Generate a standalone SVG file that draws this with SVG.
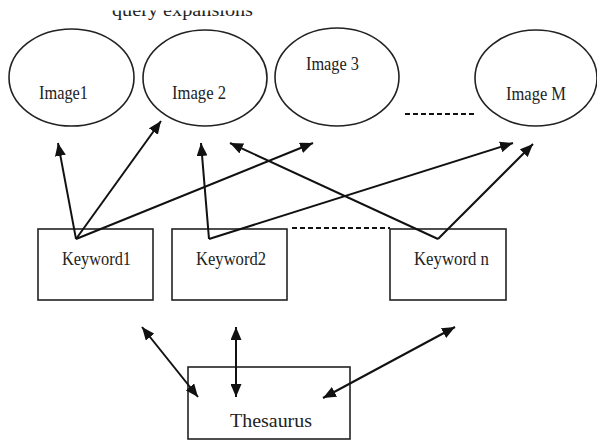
<svg xmlns="http://www.w3.org/2000/svg" width="597" height="441" viewBox="0 0 597 441">
<style>
.node ellipse, .node rect { fill: #fff; stroke: #222; stroke-width: 1.6; }
.lbl { font-family: "Liberation Serif", "Times New Roman", serif; font-size: 19px; fill: #222; }
.conn line { stroke: #111; stroke-width: 2; fill: none; }
.dash { stroke: #222; stroke-width: 1.3; stroke-dasharray: 5 3; fill: none; }
</style>
<defs>
<marker id="ah" viewBox="0 0 13 11" refX="13" refY="5.5" markerWidth="13" markerHeight="11" markerUnits="userSpaceOnUse" orient="auto-start-reverse">
<path d="M0,0 L13,5.5 L0,11 z" fill="#111"/>
</marker>
<clipPath id="topclip"><rect x="0" y="10.5" width="597" height="30"/></clipPath>
</defs>
<rect width="597" height="441" fill="#fff"/>
<text class="lbl" x="112" y="16" font-size="20" textLength="141" lengthAdjust="spacingAndGlyphs" clip-path="url(#topclip)">query expansions</text>

<g id="image1" class="node"><ellipse cx="71.5" cy="77.5" rx="62.5" ry="48.5"/><text class="lbl" x="39" y="99" textLength="49" lengthAdjust="spacingAndGlyphs">Image1</text></g>
<g id="image2" class="node"><ellipse cx="205" cy="78" rx="62" ry="48"/><text class="lbl" x="172" y="99" textLength="54" lengthAdjust="spacingAndGlyphs">Image 2</text></g>
<g id="image3" class="node"><ellipse cx="337" cy="77" rx="62" ry="49"/><text class="lbl" x="306" y="70" textLength="53" lengthAdjust="spacingAndGlyphs">Image 3</text></g>
<g id="imageM" class="node"><ellipse cx="536" cy="78" rx="61" ry="48"/><text class="lbl" x="506" y="100" textLength="60" lengthAdjust="spacingAndGlyphs">Image M</text></g>

<g id="keyword1" class="node"><rect x="38" y="229" width="115" height="71"/><text class="lbl" x="62" y="265" textLength="69" lengthAdjust="spacingAndGlyphs">Keyword1</text></g>
<g id="keyword2" class="node"><rect x="172" y="229" width="115" height="71"/><text class="lbl" x="196" y="265" textLength="70" lengthAdjust="spacingAndGlyphs">Keyword2</text></g>
<g id="keywordn" class="node"><rect x="390" y="229" width="116" height="71"/><text class="lbl" x="414" y="265" textLength="75" lengthAdjust="spacingAndGlyphs">Keyword n</text></g>

<g id="thesaurus" class="node"><rect x="188" y="367" width="162" height="72"/><text class="lbl" x="230" y="427" textLength="82" lengthAdjust="spacingAndGlyphs">Thesaurus</text></g>

<g id="connectors" class="conn">
<line class="dash" x1="405" y1="114" x2="477" y2="114"/>
<line class="dash" x1="292" y1="228" x2="390" y2="228"/>
<line x1="76" y1="239" x2="58" y2="143" marker-end="url(#ah)"/>
<line x1="76" y1="239" x2="161" y2="121" marker-end="url(#ah)"/>
<line x1="76" y1="239" x2="313" y2="143" marker-end="url(#ah)"/>
<line x1="209" y1="239" x2="201" y2="143" marker-end="url(#ah)"/>
<line x1="209" y1="239" x2="513" y2="143" marker-end="url(#ah)"/>
<line x1="438" y1="239" x2="230" y2="143" marker-end="url(#ah)"/>
<line x1="438" y1="239" x2="533" y2="144" marker-end="url(#ah)"/>
<line x1="142" y1="327" x2="198" y2="397" marker-start="url(#ah)" marker-end="url(#ah)"/>
<line x1="236" y1="327" x2="236" y2="397" marker-start="url(#ah)" marker-end="url(#ah)"/>
<line x1="455" y1="327" x2="323" y2="398" marker-start="url(#ah)" marker-end="url(#ah)"/>
</g>
</svg>
